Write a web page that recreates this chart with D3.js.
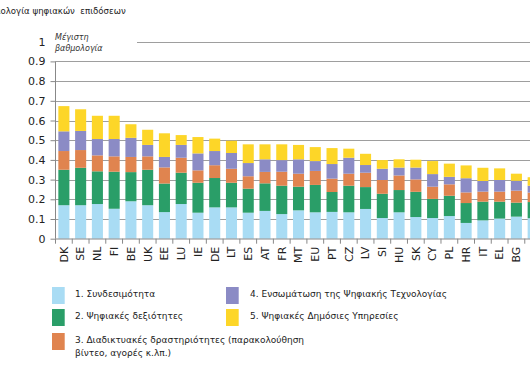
<!DOCTYPE html>
<html>
<head>
<meta charset="utf-8">
<script src="https://cdn.jsdelivr.net/npm/d3@7"></script>
<style>
html,body{margin:0;padding:0;background:#fff;}
svg{display:block;font-family:"DejaVu Sans",Verdana,sans-serif;}
</style>
</head>
<body>
<svg id="chart" width="530" height="368"></svg>
<script>
const categories = ["DK","SE","NL","FI","BE","UK","EE","LU","IE","DE","LT","ES","AT","FR","MT","EU","PT","CZ","LV","SI","HU","SK","CY","PL","HR","IT","EL","BG","RO"];
const connectivity = [0.17,0.17,0.176,0.152,0.19,0.17,0.135,0.176,0.132,0.159,0.159,0.132,0.141,0.125,0.144,0.134,0.136,0.134,0.151,0.105,0.134,0.11,0.105,0.115,0.08,0.093,0.102,0.112,0.104];
const skills = [0.18,0.19,0.166,0.188,0.148,0.18,0.145,0.159,0.152,0.149,0.125,0.122,0.14,0.144,0.12,0.139,0.101,0.135,0.111,0.123,0.113,0.128,0.097,0.103,0.101,0.095,0.086,0.071,0.082];
const internetUse = [0.095,0.09,0.081,0.078,0.077,0.068,0.082,0.076,0.063,0.065,0.071,0.063,0.058,0.071,0.066,0.071,0.068,0.061,0.073,0.07,0.074,0.063,0.062,0.058,0.054,0.051,0.051,0.061,0.048];
const integration = [0.10,0.097,0.083,0.088,0.097,0.058,0.053,0.065,0.086,0.072,0.08,0.067,0.064,0.059,0.073,0.05,0.074,0.081,0.039,0.057,0.04,0.06,0.064,0.038,0.072,0.054,0.059,0.05,0.035];
const publicServices = [0.128,0.11,0.118,0.118,0.069,0.077,0.12,0.05,0.083,0.063,0.062,0.095,0.076,0.08,0.073,0.071,0.081,0.046,0.057,0.044,0.042,0.04,0.066,0.067,0.065,0.067,0.059,0.036,0.043];
const yTickValues = [0,0.1,0.2,0.3,0.4,0.5,0.6,0.7,0.8,0.9,1];
const yTickLabels = ["0","0.1","0.2","0.3","0.4","0.5","0.6","0.7","0.8","0.9","1"];
const seriesNames = ["1. Συνδεσιμότητα","2. Ψηφιακές δεξιότητες","3. Διαδικτυακές δραστηριότητες (παρακολούθηση|βίντεο, αγορές κ.λπ.)","4. Ενσωμάτωση της Ψηφιακής Τεχνολογίας","5. Ψηφιακές Δημόσιες Υπηρεσίες"];
const seriesColors = ["#a9dcf4","#2a9e68","#e0844f","#8b8bc5","#fdd628"];
const titleText = "Βαθμολογία ψηφιακών  επιδόσεων";
const maxLabel = ["Μέγιστη","βαθμολογία"];

const keys = ["c","s","i","t","p"];
const table = categories.map((c,k)=>({cat:c,c:connectivity[k],s:skills[k],i:internetUse[k],t:integration[k],p:publicServices[k]}));
const stacked = d3.stack().keys(keys)(table);

const svg = d3.select("#chart");
const x0 = 55.5, step = 16.76;
const x = d3.scaleBand().domain(categories).range([x0, x0 + categories.length*step]).paddingInner(0.34).paddingOuter(0.17);
const y = d3.scaleLinear().domain([0,1]).range([238.7, 41.7]);

// title (left part clipped like the original)
const tmp = svg.append("text").attr("font-size",8.6).text("Βαθμ");
const pre = tmp.node().getComputedTextLength();
tmp.remove();
svg.append("text").attr("x",-pre+0.5).attr("y",14).attr("font-size",8.6).attr("fill","#222").attr("xml:space","preserve").style("white-space","pre").text(titleText);

// gridlines
svg.append("g").selectAll("line").data(yTickValues.filter(v=>v>0)).join("line")
  .attr("x1",d=>d===1?137:x0).attr("x2",530)
  .attr("y1",d=>Math.round(y(d))+0.5).attr("y2",d=>Math.round(y(d))+0.5)
  .attr("stroke","#9e9e9e").attr("stroke-width",1);

// bars
svg.append("g").selectAll("g").data(stacked).join("g")
  .attr("fill",(d,k)=>seriesColors[k])
  .selectAll("rect").data(d=>d).join("rect")
  .attr("x",d=>x(d.data.cat)).attr("width",x.bandwidth())
  .attr("y",d=>y(d[1])).attr("height",d=>y(d[0])-y(d[1]));

// y axis
const yAxis = d3.axisLeft(y).tickValues(yTickValues.filter(v=>v<1)).tickFormat((d)=>yTickLabels[yTickValues.indexOf(d)]).tickSize(5).tickPadding(5);
const gy = svg.append("g").attr("transform",`translate(${x0},0)`).call(yAxis);
gy.select(".domain").remove();
gy.selectAll(".tick line").attr("stroke","#888");
gy.selectAll(".tick text").attr("font-size",11).attr("fill","#222").attr("font-family","DejaVu Sans, sans-serif");
svg.append("line").attr("x1",x0).attr("x2",x0).attr("y1",y(0.9)).attr("y2",y(0)).attr("stroke","#888");
svg.append("text").attr("x",x0-10).attr("y",y(1)).attr("dy","0.35em").attr("text-anchor","end").attr("font-size",11).attr("fill","#222").text(yTickLabels[10]);

// max label
const ml = svg.append("text").attr("x",55).attr("y",40).attr("font-size",8).attr("font-style","italic").attr("fill","#333");
ml.selectAll("tspan").data(maxLabel).join("tspan").attr("x",55).attr("dy",(d,k)=>k?10.5:0).text(d=>d);

// x axis (the last category lies beyond the picture's right edge, as in the original crop)
const xAxis = d3.axisBottom(x).tickSize(0).tickPadding(0);
const gx = svg.append("g").attr("transform",`translate(0,${y(0)})`).call(xAxis);
gx.select(".domain").remove();
gx.selectAll(".tick").filter(d=>x(d)+x.bandwidth()/2 > 526).remove();
gx.selectAll(".tick text").attr("font-size",11).attr("fill","#222").attr("font-family","DejaVu Sans, sans-serif")
  .attr("text-anchor","end").attr("transform","rotate(-90)").attr("x",-8).attr("y",0).attr("dy","0.35em");
svg.append("line").attr("x1",x0).attr("x2",530).attr("y1",y(0)+0.3).attr("y2",y(0)+0.3).attr("stroke","#888");
svg.append("g").selectAll("line").data(categories).join("line")
  .attr("x1",d=>x(d)-x.paddingOuter()*x.step()).attr("x2",d=>x(d)-x.paddingOuter()*x.step())
  .attr("y1",y(0)).attr("y2",y(0)+5).attr("stroke","#888");

// legend
const legendPos = [[52,287],[52,309],[52,333],[226,287],[226,309]];
const lg = svg.append("g");
seriesNames.forEach((name,k)=>{
  const [lx,ly] = legendPos[k];
  lg.append("rect").attr("x",lx).attr("y",ly).attr("width",12.7).attr("height",17).attr("fill",seriesColors[k]);
  const t = lg.append("text").attr("font-size",9).attr("fill","#222");
  name.split("|").forEach((line,j)=>{
    t.append("tspan").attr("x",lx+(k<3?23:24)).attr("y",ly+10+j*12.5).text(line);
  });
});
</script>
</body>
</html>
